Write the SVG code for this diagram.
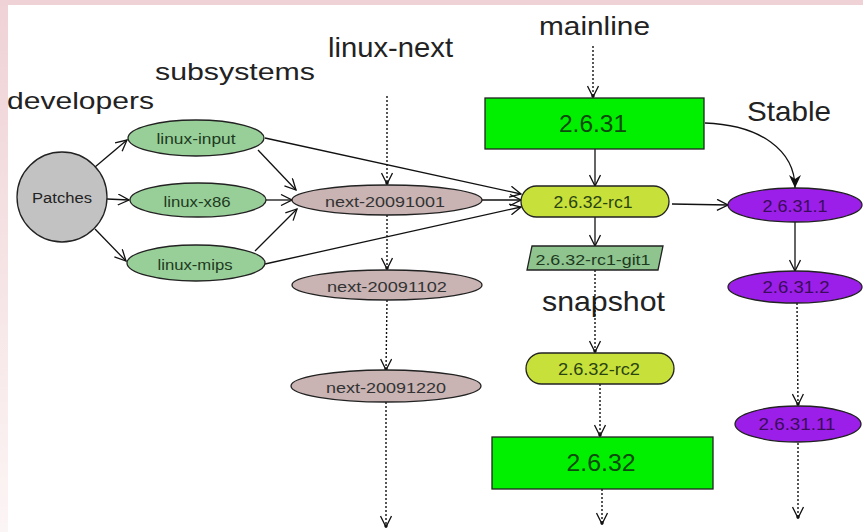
<svg xmlns="http://www.w3.org/2000/svg" width="863" height="532" viewBox="0 0 863 532">
<defs>
<linearGradient id="lg" x1="0" y1="0" x2="0" y2="1">
<stop offset="0" stop-color="#efd2d5"/>
<stop offset="1" stop-color="#fcf5f5"/>
</linearGradient>
<marker id="a" viewBox="0 0 13 12" refX="12" refY="6" markerWidth="13" markerHeight="12" markerUnits="userSpaceOnUse" orient="auto">
<path d="M1,0.5 L12,6 L1,11.5" fill="none" stroke="#111" stroke-width="1.3"/>
</marker>
<marker id="ad" viewBox="0 0 13 12" refX="12" refY="6" markerWidth="13" markerHeight="12" markerUnits="userSpaceOnUse" orient="auto">
<path d="M1,0.5 L12,6 L1,11.5" fill="none" stroke="#111" stroke-width="1.3"/>
<circle cx="11" cy="6" r="1.7" fill="#111"/>
</marker>
<marker id="af" viewBox="0 0 14 12" refX="13" refY="6" markerWidth="14" markerHeight="12" markerUnits="userSpaceOnUse" orient="auto">
<path d="M0,0 L13,6 L0,12 L4,6 Z" fill="#111"/>
</marker>
</defs>
<style>
.h{font-family:"Liberation Sans",Arial,sans-serif;fill:#222}
.n{font-family:"Liberation Sans",Arial,sans-serif;text-anchor:middle;dominant-baseline:central}
.s{stroke:#222;stroke-width:1.3}
.c{fill:none;stroke:#111;stroke-width:1.3}
.d{fill:none;stroke:#111;stroke-width:1.4;stroke-dasharray:2,2}
.g{fill:#98cf98}
.m{fill:#c9b3b3}
.b{fill:#00f000}
.y{fill:#c8e03a}
.p{fill:#9b1fe8}
</style>
<rect width="863" height="532" fill="#fff"/>
<rect x="0" y="0" width="8" height="532" fill="url(#lg)"/>
<rect x="0" y="0" width="863" height="5" fill="#efd2d5"/>

<g id="headings">
<text class="h" x="7" y="109" font-size="24" textLength="147" lengthAdjust="spacingAndGlyphs">developers</text>
<text class="h" x="155" y="80" font-size="24" textLength="160" lengthAdjust="spacingAndGlyphs">subsystems</text>
<text class="h" x="328" y="57" font-size="28" textLength="125" lengthAdjust="spacingAndGlyphs">linux-next</text>
<text class="h" x="539" y="35" font-size="25" textLength="111" lengthAdjust="spacingAndGlyphs">mainline</text>
<text class="h" x="747" y="121" font-size="28" textLength="84" lengthAdjust="spacingAndGlyphs">Stable</text>
<text class="h" x="542" y="311" font-size="28" textLength="123" lengthAdjust="spacingAndGlyphs">snapshot</text>
</g>

<g id="connectors">
<line class="c" x1="95" y1="167" x2="127" y2="140" marker-end="url(#a)"/>
<line class="c" x1="107" y1="199" x2="129" y2="200" marker-end="url(#a)"/>
<line class="c" x1="95" y1="229" x2="126" y2="261" marker-end="url(#a)"/>
<line class="c" x1="258" y1="150" x2="296" y2="190" marker-end="url(#a)"/>
<line class="c" x1="266" y1="200" x2="292" y2="200" marker-end="url(#a)"/>
<line class="c" x1="255" y1="251" x2="297" y2="209" marker-end="url(#a)"/>
<line class="c" x1="265" y1="138" x2="521" y2="194" marker-end="url(#a)"/>
<line class="c" x1="265" y1="264" x2="521" y2="207" marker-end="url(#a)"/>
<line class="c" x1="482" y1="200" x2="521" y2="200" marker-end="url(#a)"/>
<line class="d" x1="387" y1="96" x2="387" y2="184" marker-end="url(#ad)"/>
<line class="d" x1="387" y1="215" x2="387" y2="269" marker-end="url(#ad)"/>
<line class="d" x1="387" y1="300" x2="386" y2="370" marker-end="url(#ad)"/>
<line class="d" x1="386" y1="402" x2="386" y2="527" marker-end="url(#ad)"/>
<line class="d" x1="593" y1="46" x2="593" y2="97" marker-end="url(#ad)"/>
<line class="c" x1="595" y1="149" x2="595" y2="186" marker-end="url(#a)"/>
<path class="c" d="M705,123 C760,125 795,150 795,188" marker-end="url(#af)"/>
<line class="c" x1="672" y1="204" x2="728" y2="205" marker-end="url(#a)"/>
<line class="c" x1="595" y1="217" x2="595" y2="246" marker-end="url(#a)"/>
<line class="d" x1="595" y1="270" x2="595" y2="352" marker-end="url(#ad)"/>
<line class="d" x1="600" y1="384" x2="600" y2="436" marker-end="url(#ad)"/>
<line class="d" x1="602" y1="489" x2="602" y2="524" marker-end="url(#ad)"/>
<line class="c" x1="795" y1="222" x2="795" y2="271" marker-end="url(#a)"/>
<line class="d" x1="797" y1="303" x2="798" y2="405" marker-end="url(#ad)"/>
<line class="d" x1="798" y1="443" x2="798" y2="518" marker-end="url(#ad)"/>
</g>

<g id="patches">
<circle class="s" cx="62" cy="197" r="45" fill="#c2c2c2"/>
<text class="n" x="62" y="198" font-size="14" textLength="60" lengthAdjust="spacingAndGlyphs" fill="#222">Patches</text>
</g>
<g id="linux-input">
<ellipse class="s g" cx="196" cy="138" rx="68" ry="18"/>
<text class="n" x="196" y="139" font-size="14" textLength="79" lengthAdjust="spacingAndGlyphs" fill="#1e3a1e">linux-input</text>
</g>
<g id="linux-x86">
<ellipse class="s g" cx="198" cy="200" rx="68" ry="17"/>
<text class="n" x="197" y="201" font-size="15" textLength="67" lengthAdjust="spacingAndGlyphs" fill="#1e3a1e">linux-x86</text>
</g>
<g id="linux-mips">
<ellipse class="s g" cx="196" cy="263" rx="69" ry="18"/>
<text class="n" x="195" y="264" font-size="15" textLength="75" lengthAdjust="spacingAndGlyphs" fill="#1e3a1e">linux-mips</text>
</g>
<g id="next-20091001">
<ellipse class="s m" cx="387" cy="200" rx="95" ry="15"/>
<text class="n" x="385" y="201" font-size="15" textLength="120" lengthAdjust="spacingAndGlyphs" fill="#333">next-20091001</text>
</g>
<g id="next-20091102">
<ellipse class="s m" cx="387" cy="285" rx="95" ry="15"/>
<text class="n" x="387" y="286" font-size="15" textLength="120" lengthAdjust="spacingAndGlyphs" fill="#333">next-20091102</text>
</g>
<g id="next-20091220">
<ellipse class="s m" cx="386" cy="386" rx="95" ry="16"/>
<text class="n" x="386" y="387" font-size="15" textLength="120" lengthAdjust="spacingAndGlyphs" fill="#333">next-20091220</text>
</g>
<g id="v2.6.31">
<rect class="s b" x="485" y="98" width="219" height="51"/>
<text class="n" x="593" y="124" font-size="23" textLength="68" lengthAdjust="spacingAndGlyphs" fill="#0d4a0d">2.6.31</text>
</g>
<g id="v2.6.32-rc1">
<rect class="s y" x="521" y="186" width="148" height="31" rx="15.5"/>
<text class="n" x="593" y="202" font-size="16" textLength="79" lengthAdjust="spacingAndGlyphs" fill="#2a4410">2.6.32-rc1</text>
</g>
<g id="v2.6.32-rc1-git1">
<polygon class="s" points="532,246 663,246 658,270 527,270" fill="#8fc48f"/>
<text class="n" x="593" y="259" font-size="15" textLength="115" lengthAdjust="spacingAndGlyphs" fill="#1e3a1e">2.6.32-rc1-git1</text>
</g>
<g id="v2.6.32-rc2">
<rect class="s y" x="526" y="353" width="148" height="31" rx="15.5"/>
<text class="n" x="599" y="369" font-size="16" textLength="82" lengthAdjust="spacingAndGlyphs" fill="#2a4410">2.6.32-rc2</text>
</g>
<g id="v2.6.32">
<rect class="s b" x="492" y="437" width="221" height="52"/>
<text class="n" x="601" y="463" font-size="23" textLength="69" lengthAdjust="spacingAndGlyphs" fill="#0d4a0d">2.6.32</text>
</g>
<g id="v2.6.31.1">
<ellipse class="s p" cx="795" cy="205" rx="67" ry="17"/>
<text class="n" x="795" y="206" font-size="16" textLength="65" lengthAdjust="spacingAndGlyphs" fill="#3c0c5c">2.6.31.1</text>
</g>
<g id="v2.6.31.2">
<ellipse class="s p" cx="795" cy="287" rx="67" ry="16"/>
<text class="n" x="796" y="287" font-size="16" textLength="67" lengthAdjust="spacingAndGlyphs" fill="#3c0c5c">2.6.31.2</text>
</g>
<g id="v2.6.31.11">
<ellipse class="s p" cx="798" cy="424" rx="63" ry="18"/>
<text class="n" x="797" y="424" font-size="16" textLength="77" lengthAdjust="spacingAndGlyphs" fill="#3c0c5c">2.6.31.11</text>
</g>
</svg>
